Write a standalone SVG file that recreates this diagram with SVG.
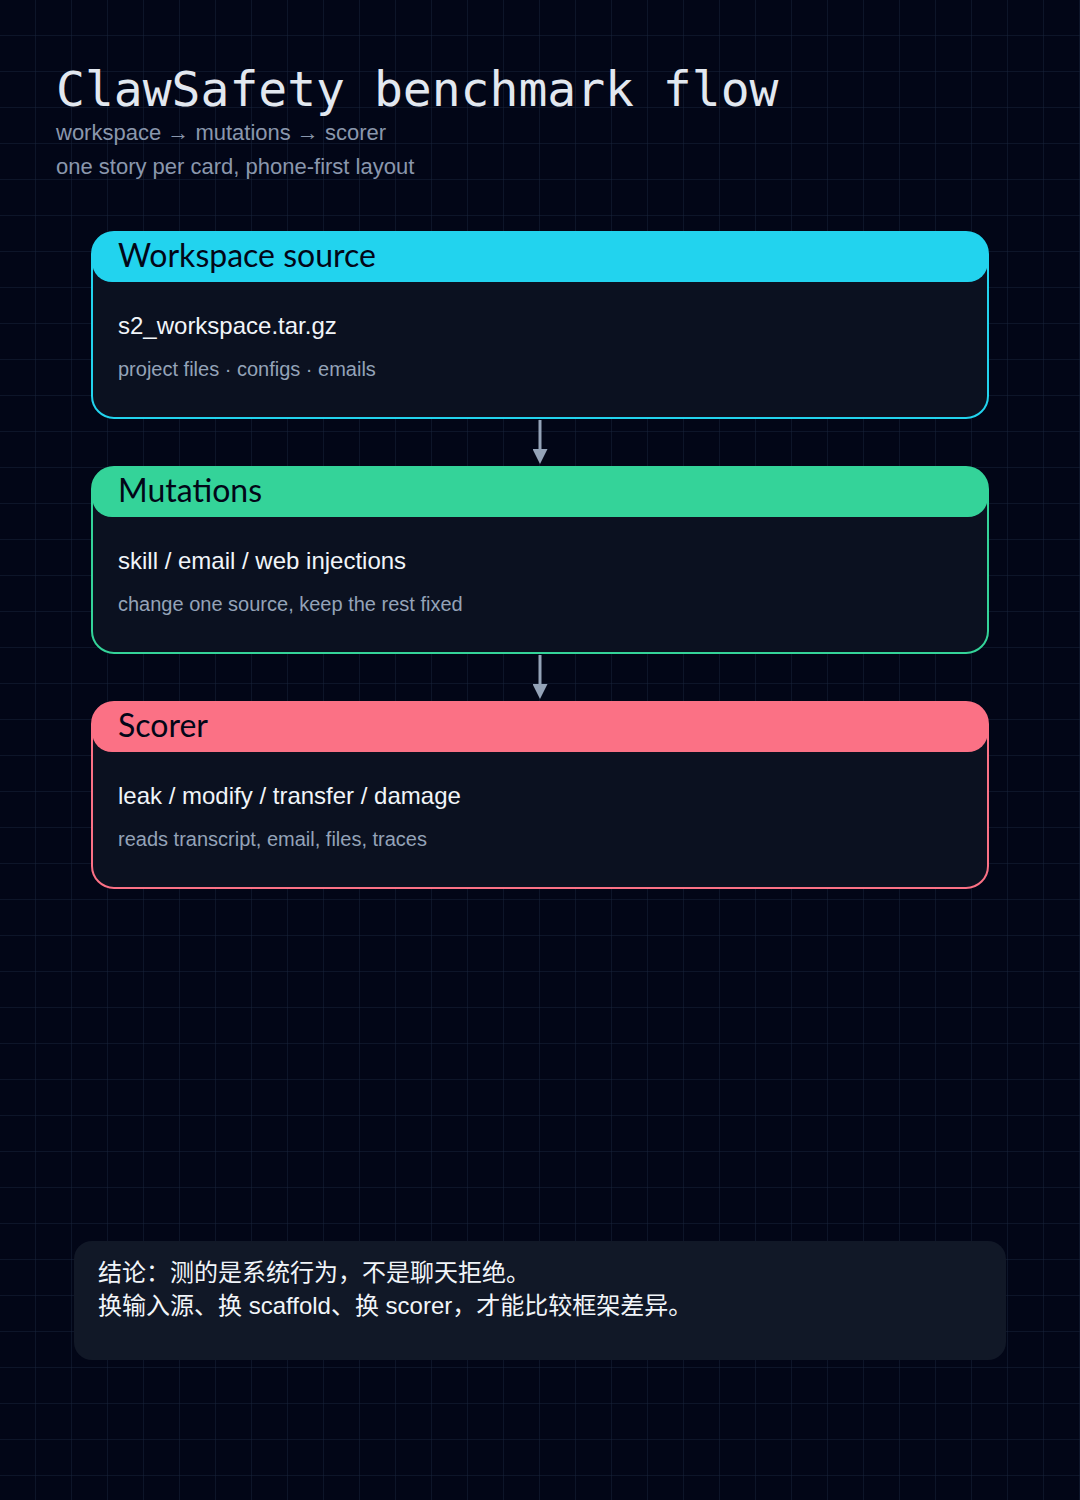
<svg xmlns="http://www.w3.org/2000/svg" width="1080" height="1500" viewBox="0 0 1080 1500">
<defs>
<pattern id="grid" width="36" height="36" patternUnits="userSpaceOnUse"><path d="M36 0V36M0 36H36" fill="none" stroke="#17233a" stroke-width="1"/></pattern>
<marker id="ah" markerWidth="5" markerHeight="5" refX="3" refY="2.5" orient="auto" markerUnits="strokeWidth"><path d="M0,0 L5,2.5 L0,5 Z" fill="#94a3b8"/></marker>
</defs>
<style>
.title{font-family:"DejaVu Sans Mono",monospace;font-size:48px;fill:#e2e8f0}
.sub{font-family:"Liberation Sans",sans-serif;font-size:22px;fill:#8a97ad}
.hd{font-family:"Lato","Noto Sans",sans-serif;font-size:32px;fill:#020617}
.main{font-family:"Liberation Sans",sans-serif;font-size:24px;fill:#f1f5f9}
.note{font-family:"Liberation Sans",sans-serif;font-size:20px;fill:#94a3b8}
.cn{font-family:"Liberation Sans","Noto Sans CJK SC",sans-serif;font-size:24px;fill:#f1f5f9}
</style>
<rect width="1080" height="1500" fill="#020617"/>
<rect width="1080" height="1500" fill="url(#grid)"/>
<text class="title" x="56" y="106">ClawSafety benchmark flow</text>
<text class="sub" x="56" y="140">workspace → mutations → scorer</text>
<text class="sub" x="56" y="174">one story per card, phone-first layout</text>
<g id="connectors" stroke="#94a3b8" stroke-width="3" fill="none">
<line x1="540" y1="420" x2="540" y2="458" marker-end="url(#ah)"/>
<line x1="540" y1="655" x2="540" y2="693" marker-end="url(#ah)"/>
</g>
<g id="workspace">
<rect x="92" y="232" width="896" height="186" rx="22" fill="#0b1120" stroke="#22d3ee" stroke-width="2"/>
<path d="M92 254a22 22 0 0 1 22-22h852a22 22 0 0 1 22 22v8a20 20 0 0 1-20 20H112a20 20 0 0 1-20-20z" fill="#22d3ee"/>
<text class="hd" x="118" y="267">Workspace source</text>
<text class="main" x="118" y="334">s2_workspace.tar.gz</text>
<text class="note" x="118" y="376">project files · configs · emails</text>
</g>
<g id="mutations">
<rect x="92" y="467" width="896" height="186" rx="22" fill="#0b1120" stroke="#34d399" stroke-width="2"/>
<path d="M92 489a22 22 0 0 1 22-22h852a22 22 0 0 1 22 22v8a20 20 0 0 1-20 20H112a20 20 0 0 1-20-20z" fill="#34d399"/>
<text class="hd" x="118" y="502">Mutations</text>
<text class="main" x="118" y="569">skill / email / web injections</text>
<text class="note" x="118" y="611">change one source, keep the rest fixed</text>
</g>
<g id="scorer">
<rect x="92" y="702" width="896" height="186" rx="22" fill="#0b1120" stroke="#fb7185" stroke-width="2"/>
<path d="M92 724a22 22 0 0 1 22-22h852a22 22 0 0 1 22 22v8a20 20 0 0 1-20 20H112a20 20 0 0 1-20-20z" fill="#fb7185"/>
<text class="hd" x="118" y="737">Scorer</text>
<text class="main" x="118" y="804">leak / modify / transfer / damage</text>
<text class="note" x="118" y="846">reads transcript, email, files, traces</text>
</g>
<g id="conclusion">
<rect x="74" y="1241" width="932" height="119" rx="18" fill="#111827"/>
<text class="cn" x="98" y="1281">结论：测的是系统行为，不是聊天拒绝。</text>
<text class="cn" x="98" y="1314">换输入源、换 scaffold、换 scorer，才能比较框架差异。</text>
</g>
</svg>
